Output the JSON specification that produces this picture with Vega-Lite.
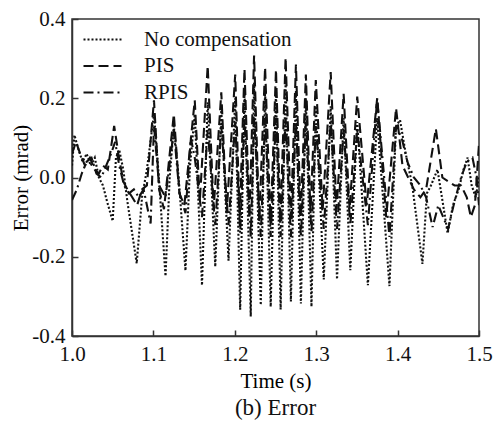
{
 "$schema": "https://vega.github.io/schema/vega-lite/v6.json",
 "width": 407, "height": 317,
 "autosize": "none",
 "padding": {"left": 72, "top": 19, "right": 21, "bottom": 87},
 "background": "white",
 "title": {"text": "(b) Error", "orient": "bottom", "font": "Liberation Serif", "fontSize": 23, "fontWeight": "normal", "color": "#111", "offset": 6},
 "config": {
  "view": {"stroke": "#333", "strokeWidth": 1.5},
  "axis": {"labelFont": "Liberation Serif", "labelFontSize": 21, "labelColor": "#111", "titleFont": "Liberation Serif", "titleFontSize": 21, "titleFontWeight": "normal", "titleColor": "black", "domainColor": "#333", "domainWidth": 1.5, "tickColor": "#333", "tickWidth": 1.5, "tickSize": -6, "labelPadding": 13, "grid": false, "labelFlush": false}
 },
 "data": {"values": [
  {"s":"No compensation","t":1.000,"v":0.03},{"s":"No compensation","t":1.003,"v":0.107},{"s":"No compensation","t":1.008,"v":0.07},{"s":"No compensation","t":1.013,"v":0.04},{"s":"No compensation","t":1.018,"v":0.06},{"s":"No compensation","t":1.023,"v":0.03},{"s":"No compensation","t":1.028,"v":0.05},{"s":"No compensation","t":1.033,"v":0.0},{"s":"No compensation","t":1.038,"v":-0.02},{"s":"No compensation","t":1.043,"v":-0.06},{"s":"No compensation","t":1.050,"v":-0.11},{"s":"No compensation","t":1.054,"v":0.05},{"s":"No compensation","t":1.058,"v":0.07},{"s":"No compensation","t":1.063,"v":0.02},{"s":"No compensation","t":1.068,"v":-0.06},{"s":"No compensation","t":1.0795,"v":-0.217},{"s":"No compensation","t":1.086,"v":-0.05},{"s":"No compensation","t":1.092,"v":0.02},{"s":"No compensation","t":1.1007,"v":0.16},{"s":"No compensation","t":1.106,"v":0.02},{"s":"No compensation","t":1.1149,"v":-0.249},{"s":"No compensation","t":1.120,"v":0.0},{"s":"No compensation","t":1.1251,"v":0.13},{"s":"No compensation","t":1.131,"v":0.0},{"s":"No compensation","t":1.1394,"v":-0.235},{"s":"No compensation","t":1.145,"v":0.03},{"s":"No compensation","t":1.1508,"v":0.16},{"s":"No compensation","t":1.1597,"v":-0.272},{"s":"No compensation","t":1.1667,"v":0.19},{"s":"No compensation","t":1.176,"v":-0.225},{"s":"No compensation","t":1.1834,"v":0.17},{"s":"No compensation","t":1.1923,"v":-0.21},{"s":"No compensation","t":1.2005,"v":0.2},{"s":"No compensation","t":1.2066,"v":-0.334},{"s":"No compensation","t":1.2119,"v":0.22},{"s":"No compensation","t":1.2196,"v":-0.351},{"s":"No compensation","t":1.2237,"v":0.24},{"s":"No compensation","t":1.2319,"v":-0.322},{"s":"No compensation","t":1.2372,"v":0.22},{"s":"No compensation","t":1.2441,"v":-0.326},{"s":"No compensation","t":1.2506,"v":0.22},{"s":"No compensation","t":1.2563,"v":-0.333},{"s":"No compensation","t":1.2624,"v":0.24},{"s":"No compensation","t":1.2689,"v":-0.313},{"s":"No compensation","t":1.2751,"v":0.22},{"s":"No compensation","t":1.2812,"v":-0.318},{"s":"No compensation","t":1.2873,"v":0.2},{"s":"No compensation","t":1.2942,"v":-0.326},{"s":"No compensation","t":1.2995,"v":0.18},{"s":"No compensation","t":1.3093,"v":-0.257},{"s":"No compensation","t":1.3178,"v":0.18},{"s":"No compensation","t":1.3256,"v":-0.257},{"s":"No compensation","t":1.3337,"v":0.15},{"s":"No compensation","t":1.3419,"v":-0.234},{"s":"No compensation","t":1.3504,"v":0.14},{"s":"No compensation","t":1.3635,"v":-0.272},{"s":"No compensation","t":1.3749,"v":0.15},{"s":"No compensation","t":1.390,"v":-0.274},{"s":"No compensation","t":1.3981,"v":0.13},{"s":"No compensation","t":1.403,"v":0.145},{"s":"No compensation","t":1.410,"v":0.06},{"s":"No compensation","t":1.418,"v":-0.02},{"s":"No compensation","t":1.4305,"v":-0.218},{"s":"No compensation","t":1.436,"v":-0.04},{"s":"No compensation","t":1.441,"v":-0.02},{"s":"No compensation","t":1.449,"v":0.02},{"s":"No compensation","t":1.4615,"v":-0.141},{"s":"No compensation","t":1.468,"v":-0.07},{"s":"No compensation","t":1.475,"v":-0.03},{"s":"No compensation","t":1.481,"v":0.02},{"s":"No compensation","t":1.486,"v":0.05},{"s":"No compensation","t":1.491,"v":-0.02},{"s":"No compensation","t":1.496,"v":-0.05},{"s":"No compensation","t":1.500,"v":0.0},
  {"s":"PIS","t":1.000,"v":0.06},{"s":"PIS","t":1.005,"v":0.09},{"s":"PIS","t":1.010,"v":0.06},{"s":"PIS","t":1.016,"v":0.03},{"s":"PIS","t":1.022,"v":0.05},{"s":"PIS","t":1.028,"v":0.02},{"s":"PIS","t":1.033,"v":0.01},{"s":"PIS","t":1.038,"v":0.03},{"s":"PIS","t":1.044,"v":0.02},{"s":"PIS","t":1.0518,"v":0.13},{"s":"PIS","t":1.057,"v":0.06},{"s":"PIS","t":1.063,"v":-0.01},{"s":"PIS","t":1.068,"v":-0.03},{"s":"PIS","t":1.074,"v":-0.05},{"s":"PIS","t":1.080,"v":-0.07},{"s":"PIS","t":1.086,"v":-0.03},{"s":"PIS","t":1.092,"v":-0.02},{"s":"PIS","t":1.1007,"v":0.195},{"s":"PIS","t":1.107,"v":-0.03},{"s":"PIS","t":1.113,"v":-0.08},{"s":"PIS","t":1.1251,"v":0.16},{"s":"PIS","t":1.132,"v":-0.04},{"s":"PIS","t":1.138,"v":-0.07},{"s":"PIS","t":1.1508,"v":0.195},{"s":"PIS","t":1.157,"v":-0.06},{"s":"PIS","t":1.1667,"v":0.282},{"s":"PIS","t":1.174,"v":-0.08},{"s":"PIS","t":1.1834,"v":0.215},{"s":"PIS","t":1.190,"v":-0.09},{"s":"PIS","t":1.2005,"v":0.26},{"s":"PIS","t":1.206,"v":-0.1},{"s":"PIS","t":1.2119,"v":0.274},{"s":"PIS","t":1.218,"v":-0.1},{"s":"PIS","t":1.2237,"v":0.308},{"s":"PIS","t":1.230,"v":-0.11},{"s":"PIS","t":1.2372,"v":0.278},{"s":"PIS","t":1.244,"v":-0.12},{"s":"PIS","t":1.2506,"v":0.272},{"s":"PIS","t":1.256,"v":-0.11},{"s":"PIS","t":1.2624,"v":0.302},{"s":"PIS","t":1.269,"v":-0.1},{"s":"PIS","t":1.2751,"v":0.285},{"s":"PIS","t":1.281,"v":-0.1},{"s":"PIS","t":1.2873,"v":0.26},{"s":"PIS","t":1.293,"v":-0.09},{"s":"PIS","t":1.2995,"v":0.246},{"s":"PIS","t":1.308,"v":-0.08},{"s":"PIS","t":1.3178,"v":0.266},{"s":"PIS","t":1.325,"v":-0.08},{"s":"PIS","t":1.3337,"v":0.211},{"s":"PIS","t":1.341,"v":-0.08},{"s":"PIS","t":1.3504,"v":0.204},{"s":"PIS","t":1.362,"v":-0.07},{"s":"PIS","t":1.3749,"v":0.2},{"s":"PIS","t":1.386,"v":-0.1},{"s":"PIS","t":1.3981,"v":0.175},{"s":"PIS","t":1.406,"v":0.03},{"s":"PIS","t":1.413,"v":0.0},{"s":"PIS","t":1.420,"v":-0.03},{"s":"PIS","t":1.428,"v":-0.05},{"s":"PIS","t":1.435,"v":-0.03},{"s":"PIS","t":1.447,"v":0.123},{"s":"PIS","t":1.455,"v":0.0},{"s":"PIS","t":1.462,"v":-0.01},{"s":"PIS","t":1.470,"v":-0.02},{"s":"PIS","t":1.478,"v":-0.02},{"s":"PIS","t":1.485,"v":-0.05},{"s":"PIS","t":1.490,"v":-0.1},{"s":"PIS","t":1.495,"v":-0.07},{"s":"PIS","t":1.500,"v":0.085},
  {"s":"RPIS","t":1.000,"v":-0.057},{"s":"RPIS","t":1.006,"v":-0.03},{"s":"RPIS","t":1.012,"v":0.01},{"s":"RPIS","t":1.018,"v":0.04},{"s":"RPIS","t":1.024,"v":0.05},{"s":"RPIS","t":1.030,"v":0.01},{"s":"RPIS","t":1.036,"v":0.0},{"s":"RPIS","t":1.042,"v":0.03},{"s":"RPIS","t":1.048,"v":0.06},{"s":"RPIS","t":1.053,"v":0.09},{"s":"RPIS","t":1.058,"v":0.03},{"s":"RPIS","t":1.064,"v":-0.02},{"s":"RPIS","t":1.070,"v":-0.04},{"s":"RPIS","t":1.076,"v":-0.03},{"s":"RPIS","t":1.082,"v":-0.05},{"s":"RPIS","t":1.088,"v":-0.03},{"s":"RPIS","t":1.0966,"v":-0.116},{"s":"RPIS","t":1.1007,"v":0.13},{"s":"RPIS","t":1.107,"v":-0.02},{"s":"RPIS","t":1.1149,"v":-0.05},{"s":"RPIS","t":1.1251,"v":0.12},{"s":"RPIS","t":1.132,"v":-0.04},{"s":"RPIS","t":1.1394,"v":-0.09},{"s":"RPIS","t":1.146,"v":0.1},{"s":"RPIS","t":1.1508,"v":0.05},{"s":"RPIS","t":1.1597,"v":-0.1},{"s":"RPIS","t":1.1667,"v":0.12},{"s":"RPIS","t":1.176,"v":-0.12},{"s":"RPIS","t":1.1834,"v":0.13},{"s":"RPIS","t":1.1923,"v":-0.12},{"s":"RPIS","t":1.2005,"v":0.14},{"s":"RPIS","t":1.2066,"v":-0.14},{"s":"RPIS","t":1.2119,"v":0.15},{"s":"RPIS","t":1.2196,"v":-0.15},{"s":"RPIS","t":1.2237,"v":0.15},{"s":"RPIS","t":1.2319,"v":-0.15},{"s":"RPIS","t":1.2372,"v":0.15},{"s":"RPIS","t":1.2441,"v":-0.15},{"s":"RPIS","t":1.2506,"v":0.15},{"s":"RPIS","t":1.2563,"v":-0.15},{"s":"RPIS","t":1.2624,"v":0.15},{"s":"RPIS","t":1.2689,"v":-0.15},{"s":"RPIS","t":1.2751,"v":0.14},{"s":"RPIS","t":1.2812,"v":-0.15},{"s":"RPIS","t":1.2873,"v":0.14},{"s":"RPIS","t":1.2942,"v":-0.14},{"s":"RPIS","t":1.2995,"v":0.13},{"s":"RPIS","t":1.3093,"v":-0.13},{"s":"RPIS","t":1.3178,"v":0.14},{"s":"RPIS","t":1.3256,"v":-0.13},{"s":"RPIS","t":1.3337,"v":0.12},{"s":"RPIS","t":1.3419,"v":-0.12},{"s":"RPIS","t":1.3504,"v":0.12},{"s":"RPIS","t":1.3635,"v":-0.12},{"s":"RPIS","t":1.3749,"v":0.2},{"s":"RPIS","t":1.390,"v":-0.15},{"s":"RPIS","t":1.3981,"v":0.13},{"s":"RPIS","t":1.405,"v":0.1},{"s":"RPIS","t":1.412,"v":0.04},{"s":"RPIS","t":1.420,"v":0.0},{"s":"RPIS","t":1.428,"v":-0.02},{"s":"RPIS","t":1.435,"v":-0.05},{"s":"RPIS","t":1.443,"v":-0.125},{"s":"RPIS","t":1.450,"v":-0.07},{"s":"RPIS","t":1.456,"v":-0.1},{"s":"RPIS","t":1.462,"v":-0.13},{"s":"RPIS","t":1.470,"v":-0.06},{"s":"RPIS","t":1.478,"v":0.0},{"s":"RPIS","t":1.485,"v":0.04},{"s":"RPIS","t":1.492,"v":0.05},{"s":"RPIS","t":1.497,"v":0.0},{"s":"RPIS","t":1.500,"v":-0.07}
 ]},
 "mark": {"type": "line", "strokeWidth": 2.1, "color": "#111", "clip": true},
 "encoding": {
  "x": {"field": "t", "type": "quantitative", "scale": {"domain": [1.0, 1.5], "nice": false, "zero": false},
        "axis": {"values": [1.0, 1.1, 1.2, 1.3, 1.4, 1.5], "format": ".1f", "title": "Time (s)", "titlePadding": 6}},
  "y": {"field": "v", "type": "quantitative", "scale": {"domain": [-0.4, 0.4], "nice": false, "zero": false},
        "axis": {"values": [-0.4, -0.2, 0, 0.2, 0.4], "labelExpr": "datum.value < 0 ? '-' + format(-datum.value, '.1f') : format(datum.value, '.1f')", "title": "Error (mrad)", "titlePadding": 0}},
  "strokeDash": {"field": "s", "type": "nominal",
    "scale": {"domain": ["No compensation", "PIS", "RPIS"], "range": [[2, 2], [10, 5], [10, 4, 2, 4]]},
    "legend": {"orient": "none", "legendX": 20, "legendY": 10, "title": null, "symbolType": "M-2,0H2", "symbolSize": 361, "symbolStrokeWidth": 2, "symbolStrokeColor": "#111", "symbolFillColor": "transparent", "labelFont": "Liberation Serif", "labelFontSize": 21, "labelColor": "#111", "labelOffset": 31, "rowPadding": 4.5, "labelLimit": 300}}
 }
}
